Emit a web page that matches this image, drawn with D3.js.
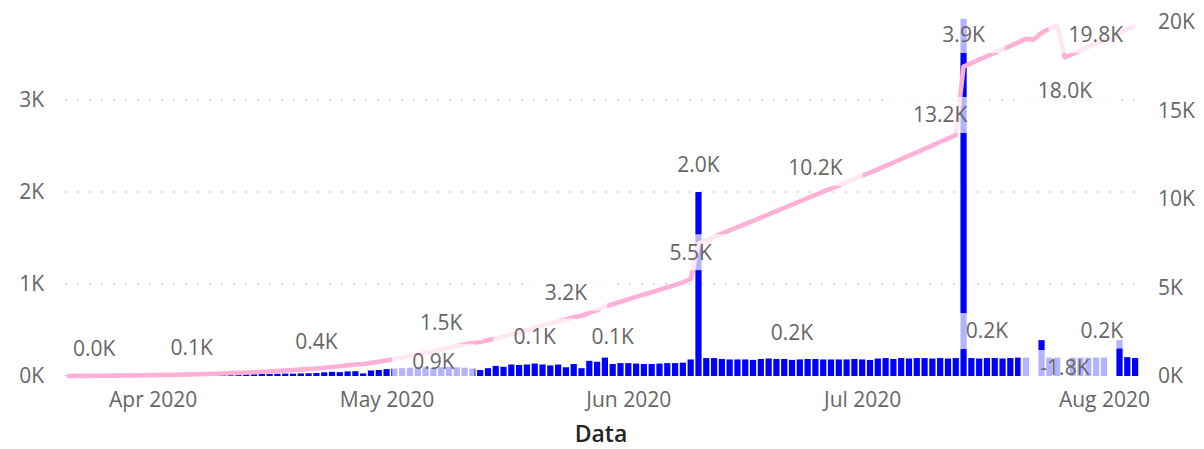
<!DOCTYPE html>
<html><head><meta charset="utf-8">
<script src="https://cdn.jsdelivr.net/npm/d3@7"></script>
<style>
body{margin:0;background:#fff}
svg{display:block}
text{font-family:"Open Sans","Noto Sans",sans-serif}
</style>
</head><body>
<svg id="chart" width="1204" height="449"></svg>
<script>
// ---------- DATA ----------
const startDate = "2020-03-21";   // first day of the series (one value per day)
const dailyValues = [
  2,1,3,2,4,3,5,4,6,5,7,6,8,7,9,8,10,
  12,14,13,16,15,18,17,20,22,21,24,26,25,28,30,32,
  40,45,42,50,52,28,60,65,75,80,85,90,85,95,90,95,
  100,95,90,80,65,85,110,100,125,120,125,135,125,115,125,95,
  130,85,165,155,200,130,140,140,135,130,130,135,140,140,145,180,
  2000,
  195,195,185,180,180,180,175,185,190,185,185,175,180,185,185,
  180,180,180,180,185,180,175,190,195,185,195,190,195,195,190,195,
  190,195,
  3880,
  195,190,195,195,190,195,200,200,-40,390,200,200,
  -1800,
  200,200,200,200,200,0,390,205,195
];
const cumulativeValues = [
  2,3,6,8,12,15,20,24,30,35,42,48,56,63,72,80,90,
  102,116,129,145,160,178,195,215,237,258,282,308,333,361,391,423,
  463,508,550,600,652,680,740,805,880,960,1045,1135,1220,1315,1405,1500,
  1600,1695,1785,1865,1930,2015,2125,2225,2350,2470,2595,2730,2855,2970,3095,3190,
  3320,3405,3570,3725,3925,4055,4195,4335,4470,4600,4730,4865,5005,5145,5290,5470,
  7470,
  7665,7860,8045,8225,8405,8585,8760,8945,9135,9320,9505,9680,9860,10045,10230,
  10410,10590,10770,10950,11135,11315,11490,11680,11875,12060,12255,12445,12640,12835,13025,13220,
  13410,13605,
  17485,
  17680,17870,18065,18260,18450,18645,18845,19045,19005,19395,19595,19795,
  17995,
  18195,18395,18595,18795,18995,18995,19385,19590,19785
];
const leftTicks = [0, 1000, 2000, 3000];
const leftTickLabels = ["0K", "1K", "2K", "3K"];
const rightTicks = [0, 5000, 10000, 15000, 20000];
const rightTickLabels = ["0K", "5K", "10K", "15K", "20K"];
const monthTicks = ["2020-04-01", "2020-05-01", "2020-06-01", "2020-07-01", "2020-08-01"];
const monthTickLabels = ["Apr 2020", "May 2020", "Jun 2020", "Jul 2020", "Aug 2020"];
const xAxisTitle = "Data";

// data labels (day index into the series, text as shown)
const lineLabelDay = [0, 16, 32, 48, 64, 80, 96, 112, 128, 137];
const lineLabelText = ["0.0K","0.1K","0.4K","1.5K","3.2K","5.5K","10.2K","13.2K","18.0K","19.8K"];
const lineLabelPlace = ["above","above","above","above","above","above","above","above","below","above"];
const barLabelDay = [47, 60, 70, 81, 93, 115, 118, 128, 133];
const barLabelText = ["0.9K","0.1K","0.1K","2.0K","0.2K","3.9K","0.2K","-1.8K","0.2K"];
const barLabelPlace = ["low","above","above","above","above","above","above","base","above"];

// ---------- LAYOUT ----------
const plotLeft = 65, plotRight = 1137, plotTop = 22, plotBottom = 376;
const barColor = "#0000FF", lineColor = "#FFB0D9", tickColor = "#666666";

const parse = d3.utcParse("%Y-%m-%d");
const d0 = parse(startDate);
const dates = d3.range(dailyValues.length).map(i => d3.utcDay.offset(d0, i));
const first = dates[0], last = dates[dates.length - 1];

const x = d3.scaleUtc()
  .domain([d3.utcHour.offset(first, -12), d3.utcHour.offset(last, 12)])
  .range([63, 1139]);
const yL = d3.scaleLinear().domain([0, 3848]).range([plotBottom, plotTop]);
const yR = d3.scaleLinear().domain([0, 20000]).range([plotBottom, plotTop]);

const svg = d3.select("#chart");

// gridlines (left axis)
svg.append("g").selectAll("line")
  .data(leftTicks.filter(t => t > 0))
  .join("line")
  .attr("x1", plotLeft).attr("x2", plotRight)
  .attr("y1", d => yL(d)).attr("y2", d => yL(d))
  .attr("stroke", "#c4c4c4").attr("stroke-width", 1.6)
  .attr("stroke-dasharray", "1.6 10.4");

// left axis
const gL = svg.append("g").attr("transform", "translate(44,0)")
  .call(d3.axisLeft(yL).tickValues(leftTicks).tickSize(0).tickPadding(0)
    .tickFormat((d, i) => leftTickLabels[i]));
gL.select(".domain").remove();
gL.selectAll("text").attr("font-size", 21).attr("fill", tickColor)
  .attr("font-family", '"Open Sans",sans-serif');

// right axis
const gR = svg.append("g").attr("transform", "translate(1158,0)")
  .call(d3.axisRight(yR).tickValues(rightTicks).tickSize(0).tickPadding(0)
    .tickFormat((d, i) => rightTickLabels[i]));
gR.select(".domain").remove();
gR.selectAll("text").attr("font-size", 21).attr("fill", tickColor)
  .attr("font-family", '"Open Sans",sans-serif');

// bottom axis
const monthDates = monthTicks.map(parse);
const gX = svg.append("g").attr("transform", "translate(0,392)")
  .call(d3.axisBottom(x).tickValues(monthDates).tickSize(0).tickPadding(0)
    .tickFormat((d, i) => monthTickLabels[i]));
gX.select(".domain").remove();
gX.selectAll("text").attr("font-size", 21).attr("fill", tickColor)
  .attr("font-family", '"Open Sans",sans-serif');

// axis title
svg.append("text").attr("x", 601).attr("y", 442).attr("text-anchor", "middle")
  .attr("font-size", 23).attr("font-weight", 600).attr("fill", "#252423")
  .text(xAxisTitle);

// bars
const bw = 6.2;
svg.append("g").selectAll("rect")
  .data(dailyValues.map((v, i) => ({ d: dates[i], v })))
  .join("rect")
  .attr("x", p => x(p.d) - bw / 2)
  .attr("width", bw)
  .attr("y", p => yL(Math.max(0, p.v)))
  .attr("height", p => yL(0) - yL(Math.max(0, p.v)))
  .attr("fill", barColor);

// line
const line = d3.line().x((v, i) => x(dates[i])).y(v => yR(v));
svg.append("path").datum(cumulativeValues)
  .attr("d", line).attr("fill", "none")
  .attr("stroke", lineColor).attr("stroke-width", 4.6)
  .attr("stroke-linejoin", "round");

// data labels
const labels = [];
lineLabelDay.forEach((di, k) => {
  const py = yR(cumulativeValues[di]);
  let cy;
  if (lineLabelPlace[k] === "below") cy = py + 33;
  else cy = Math.max(py - 27, 35);
  labels.push({ px: x(dates[di]), cy, text: lineLabelText[k] });
});
barLabelDay.forEach((di, k) => {
  const v = dailyValues[di];
  const py = yL(Math.max(0, v));
  let cy;
  if (barLabelPlace[k] === "base") cy = yL(0) - 8;
  else if (barLabelPlace[k] === "low") cy = py - 6;
  else cy = Math.max(py - 27, 35);
  labels.push({ px: x(dates[di]), cy, text: barLabelText[k] });
});

const haloG = svg.append("g");
const textG = svg.append("g");
labels.forEach(l => {
  const t = textG.append("text")
    .attr("font-size", 21).attr("fill", "#666666")
    .attr("text-anchor", "middle").attr("dy", "0.35em")
    .text(l.text);
  const w = t.node().getComputedTextLength();
  const cx = Math.min(Math.max(l.px, 73 + w / 2), 1123 - w / 2);
  t.attr("x", cx).attr("y", l.cy);
  haloG.append("rect")
    .attr("x", cx - w / 2 - 20).attr("width", w + 40)
    .attr("y", l.cy - 18).attr("height", 36)
    .attr("fill", "#ffffff").attr("fill-opacity", 0.7);
});
</script>
</body></html>
